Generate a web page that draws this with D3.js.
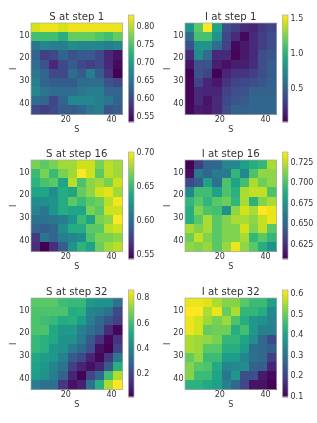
<!DOCTYPE html>
<html><head><meta charset="utf-8">
<script src="https://cdn.jsdelivr.net/npm/d3@7"></script>
<style>html,body{margin:0;padding:0;background:#fff;overflow:hidden}svg{display:block;filter:blur(.45px)}
text{font-family:"DejaVu Sans",sans-serif;fill:#333}</style></head><body>
<svg id="c" width="317" height="423"></svg>
<script>
const cellCenters=[7,11,15,19,23,27,31,35,39,43];
const xTicks=[20,40], yTicks=[10,20,30,40];
const titles=["S at step 1","I at step 1","S at step 16","I at step 16","S at step 32","I at step 32"];
const s1=[
[.81,.82,.82,.81,.82,.82,.82,.82,.82,.82],
[.74,.74,.74,.72,.76,.76,.76,.75,.74,.76],
[.65,.67,.66,.66,.68,.67,.67,.67,.66,.67],
[.63,.59,.60,.63,.61,.62,.62,.60,.57,.55],
[.64,.61,.57,.60,.62,.60,.59,.60,.57,.545],
[.65,.63,.60,.60,.64,.62,.66,.62,.58,.536],
[.66,.63,.62,.62,.62,.64,.64,.64,.61,.60],
[.67,.65,.64,.64,.64,.65,.66,.66,.63,.63],
[.64,.63,.60,.63,.67,.67,.67,.66,.65,.63],
[.60,.59,.60,.62,.62,.63,.65,.66,.61,.62]];
const i1=[
[.80,1.15,1.54,.90,.40,.30,.20,.18,.27,.33],
[.55,1.1,1.1,.8,.35,.2,.05,.2,.3,.38],
[.4,.8,.8,.55,.32,.05,.12,.2,.3,.38],
[.2,.75,.55,.2,.2,.04,.12,.2,.38,.42],
[.1,.4,.4,.15,.08,.15,.15,.22,.38,.45],
[.03,.4,.33,.03,.18,.25,.25,.3,.38,.45],
[.04,.32,.18,.12,.25,.33,.35,.38,.42,.48],
[.04,.2,.18,.18,.32,.38,.4,.5,.5,.5],
[.04,.2,.1,.2,.35,.42,.45,.52,.52,.52],
[.05,.15,.12,.2,.38,.5,.5,.52,.52,.52]];
const s16=[
[.668,.66,.668,.678,.678,.688,.688,.668,.683,.678],
[.65,.668,.65,.668,.678,.70,.688,.66,.683,.678],
[.645,.655,.66,.635,.683,.655,.673,.678,.668,.688],
[.635,.635,.62,.64,.635,.663,.673,.688,.693,.678],
[.62,.62,.625,.64,.66,.65,.66,.665,.683,.697],
[.615,.605,.625,.64,.635,.635,.668,.66,.688,.688],
[.603,.603,.605,.61,.625,.65,.635,.668,.673,.70],
[.595,.59,.595,.62,.64,.64,.66,.66,.683,.688],
[.57,.605,.595,.61,.615,.62,.655,.668,.668,.673],
[.565,.544,.565,.59,.625,.645,.635,.665,.678,.683]];
const i16=[
[.607,.63,.65,.65,.667,.667,.68,.688,.693,.72],
[.612,.66,.65,.66,.66,.692,.667,.70,.715,.715],
[.635,.645,.682,.655,.70,.682,.697,.72,.708,.715],
[.667,.697,.697,.682,.70,.69,.72,.725,.725,.70],
[.692,.703,.692,.703,.708,.692,.72,.69,.712,.72],
[.688,.712,.70,.698,.672,.715,.728,.72,.737,.733],
[.688,.703,.72,.703,.712,.72,.72,.715,.725,.733],
[.72,.712,.72,.703,.712,.712,.728,.712,.725,.703],
[.708,.725,.712,.703,.712,.712,.72,.693,.703,.693],
[.715,.712,.717,.703,.717,.733,.715,.703,.688,.672]];
const s32=[
[.64,.64,.64,.60,.58,.58,.47,.44,.44,.33],
[.62,.62,.62,.62,.53,.55,.40,.37,.33,.20],
[.62,.60,.58,.53,.55,.48,.37,.30,.23,.17],
[.62,.62,.52,.46,.47,.38,.33,.27,.12,.03],
[.58,.55,.52,.44,.44,.36,.25,.14,.03,.14],
[.58,.55,.46,.44,.36,.30,.22,.05,.015,.18],
[.52,.48,.46,.38,.25,.20,.10,.03,.15,.36],
[.50,.46,.40,.34,.17,.10,.05,.10,.25,.55],
[.48,.44,.37,.28,.10,.02,.19,.30,.60,.76],
[.37,.33,.33,.15,.05,.09,.33,.55,.75,.858]];
const i32=[
[.60,.60,.59,.55,.52,.52,.48,.45,.45,.39],
[.616,.616,.55,.60,.49,.55,.44,.44,.42,.34],
[.60,.58,.54,.51,.54,.47,.42,.37,.36,.33],
[.60,.58,.49,.50,.50,.42,.46,.37,.32,.32],
[.55,.54,.53,.51,.44,.44,.40,.35,.27,.21],
[.55,.54,.48,.48,.42,.42,.38,.28,.27,.25],
[.49,.53,.45,.45,.38,.38,.33,.29,.27,.19],
[.52,.48,.47,.41,.33,.34,.35,.26,.25,.15],
[.52,.45,.45,.40,.30,.37,.22,.22,.13,.11],
[.43,.43,.41,.39,.32,.27,.21,.12,.12,.095]];
const grids=[s1,i1,s16,i16,s32,i32];
const colorRanges=[[.536,.829],[.02,1.54],[.544,.70],[.607,.737],[.015,.858],[.095,.616]];
const cbarTicks=[[.55,.60,.65,.70,.75,.80],[.5,1.0,1.5],[.55,.60,.65,.70],[.625,.65,.675,.7,.725],[.2,.4,.6,.8],[.1,.2,.3,.4,.5,.6]];
const cbarFormats=[".2f",".1f",".2f",".3f",".1f",".1f"];

const layout={colX:[31,185],rowY:[23,160,298],plot:91.5,cbDx:97.5,cbW:5.5,cbOver:8,cbUnder:7};
const svg=d3.select("#c");
const frame="#aaa";
const fs=8;
grids.forEach((g,k)=>{
  const col=k%2,row=Math.floor(k/2);
  const L=layout.colX[col],T=layout.rowY[row],P=layout.plot;
  const x=d3.scaleLinear().domain([5,45]).range([0,P]);
  const y=d3.scaleLinear().domain([5,45]).range([0,P]);
  const color=d3.scaleSequential(d3.interpolateViridis).domain(colorRanges[k]);
  const a=svg.append("g").attr("transform",`translate(${L},${T})`);
  a.selectAll("g.r").data(g).join("g").attr("class","r").each(function(rowVals,ri){
    d3.select(this).selectAll("rect").data(rowVals).join("rect")
      .attr("x",(d,ci)=>x(cellCenters[ci]-2)).attr("y",y(cellCenters[ri]-2))
      .attr("width",(d,ci)=>x(cellCenters[ci]+2)-x(cellCenters[ci]-2))
      .attr("height",y(cellCenters[ri]+2)-y(cellCenters[ri]-2))
      .attr("shape-rendering","crispEdges")
      .attr("fill",d=>color(d));
  });
  a.append("rect").attr("width",P).attr("height",P).attr("fill","none").attr("stroke",frame).attr("stroke-width",.7);
  const ax=a.append("g").attr("transform",`translate(0,${P})`).call(d3.axisBottom(x).tickValues(xTicks).tickSize(0).tickPadding(2));
  const ay=a.append("g").call(d3.axisLeft(y).tickValues(yTicks).tickSize(0).tickPadding(1.5));
  [ax,ay].forEach(s=>{s.attr("font-family",null);s.select(".domain").remove();s.selectAll("text").attr("font-size",fs).style("fill","#333");});
  a.append("text").attr("x",P/2).attr("y",-3).attr("text-anchor","middle").attr("font-size",10.2).text(titles[k]);
  a.append("text").attr("x",P/2).attr("y",P+17.5).attr("text-anchor","middle").attr("font-size",fs).text("S");
  a.append("text").attr("transform",`translate(-15.5,${P/2}) rotate(-90)`).attr("text-anchor","middle").attr("font-size",fs).text("I");
  const ch=P+layout.cbOver+layout.cbUnder;
  const cy=d3.scaleLinear().domain(colorRanges[k]).range([ch,0]);
  const cb=a.append("g").attr("transform",`translate(${layout.cbDx},${-layout.cbOver})`);
  cb.selectAll("rect.s").data(d3.range(0,ch)).join("rect").attr("class","s").attr("x",0).attr("width",layout.cbW)
    .attr("y",d=>d).attr("height",1.3).attr("fill",d=>color(cy.invert(d+.5)));
  cb.append("rect").attr("width",layout.cbW).attr("height",ch).attr("fill","none").attr("stroke",frame).attr("stroke-width",.7);
  const cax=cb.append("g").attr("transform",`translate(${layout.cbW},0)`)
    .call(d3.axisRight(cy).tickValues(cbarTicks[k]).tickFormat(d3.format(cbarFormats[k])).tickSize(0).tickPadding(2.5));
  cax.attr("font-family",null);
  cax.select(".domain").remove();cax.selectAll("text").attr("font-size",fs).style("fill","#333");
});
</script></body></html>
